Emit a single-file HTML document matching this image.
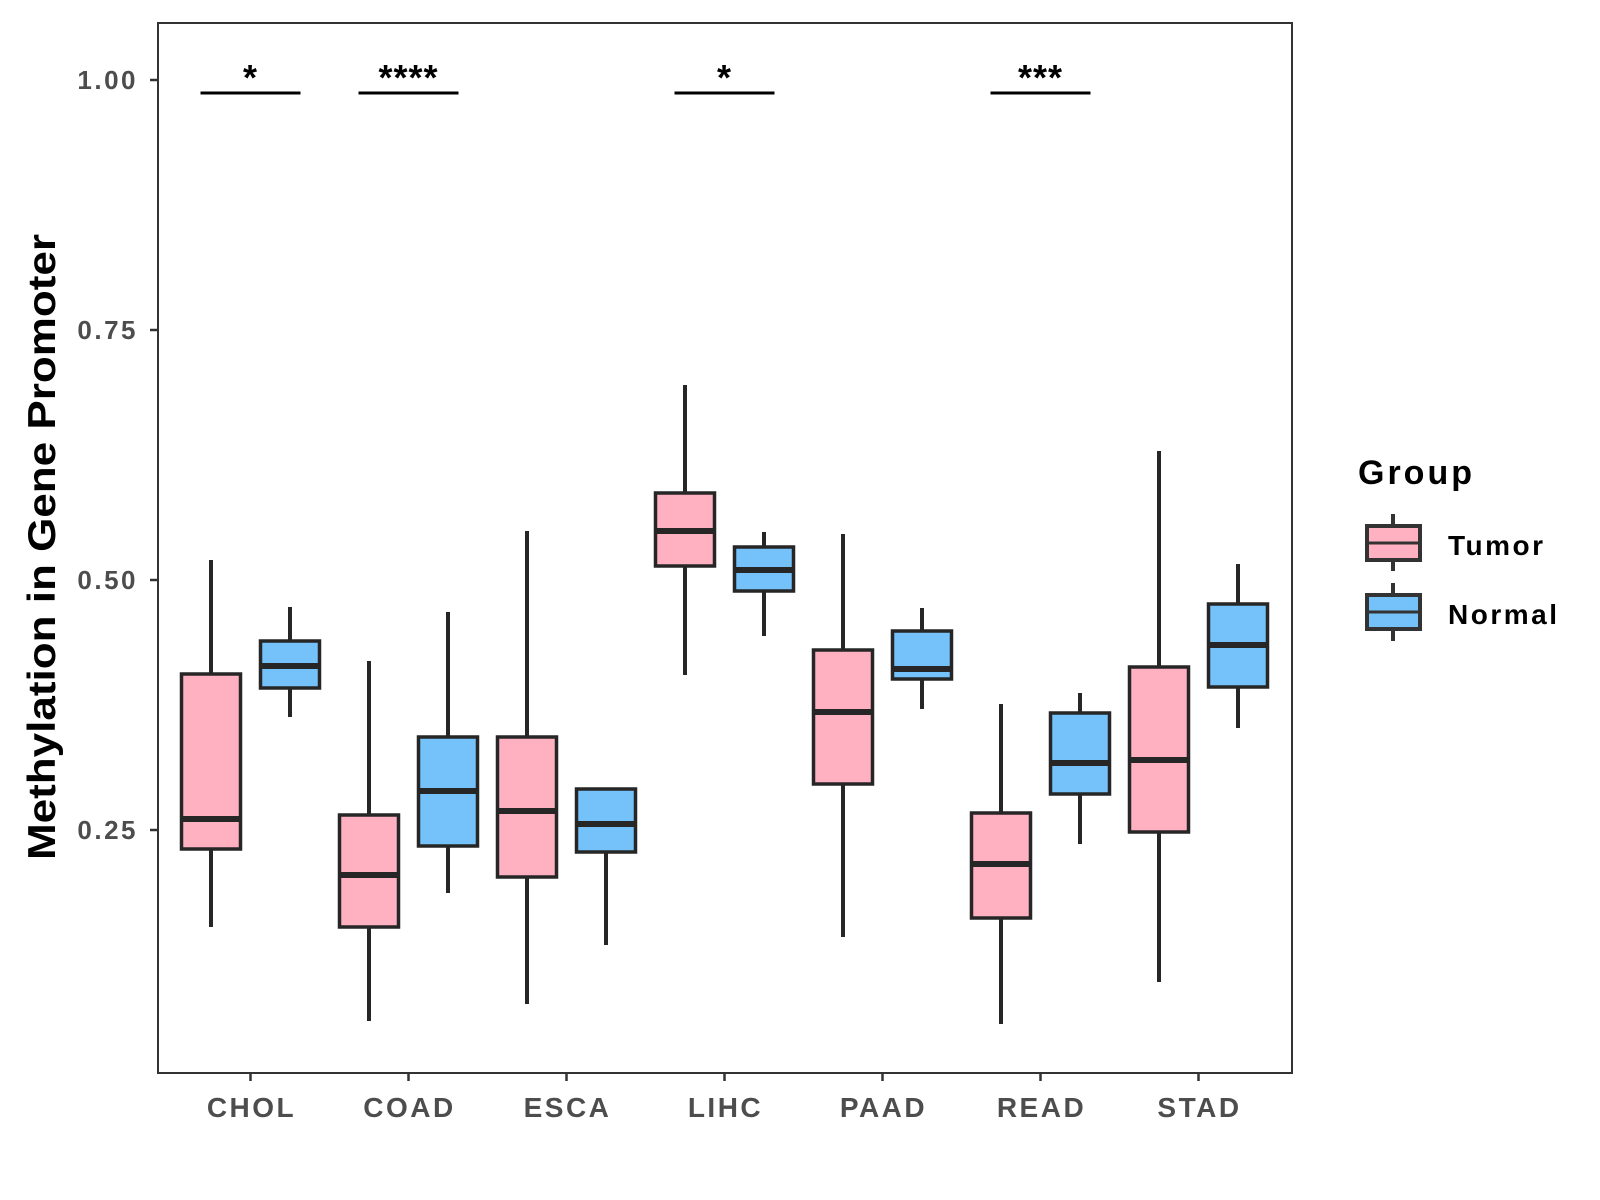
<!DOCTYPE html>
<html><head><meta charset="utf-8"><style>
html,body{margin:0;padding:0;background:#fff;}
svg{display:block;font-family:"Liberation Sans",sans-serif;}
</style></head><body>
<svg id="chart" width="1600" height="1200" xmlns="http://www.w3.org/2000/svg">
<rect x="158" y="23" width="1134" height="1050" fill="#fff" stroke="#333" stroke-width="2"/>
<g id="marks"></g>
<text transform="translate(55,547) rotate(-90)" text-anchor="middle" font-size="39" font-weight="bold" fill="#000" textLength="626" lengthAdjust="spacingAndGlyphs">Methylation in Gene Promoter</text>
<g>
<text x="1358" y="484" font-size="34" font-weight="bold" fill="#000" letter-spacing="3">Group</text>
<g>
<line x1="1393" y1="514" x2="1393" y2="571" stroke="#333" stroke-width="4"/>
<rect x="1367" y="526" width="53" height="34" fill="#FFB0C1" stroke="#333" stroke-width="4"/>
<line x1="1367" y1="543" x2="1420" y2="543" stroke="#333" stroke-width="3"/>
<text x="1448" y="555" font-size="28" font-weight="bold" fill="#000" letter-spacing="2.5">Tumor</text>
</g>
<g>
<line x1="1393" y1="583" x2="1393" y2="641" stroke="#333" stroke-width="4"/>
<rect x="1367" y="595" width="53" height="34" fill="#75C1F9" stroke="#333" stroke-width="4"/>
<line x1="1367" y1="612" x2="1420" y2="612" stroke="#333" stroke-width="3"/>
<text x="1448" y="624" font-size="28" font-weight="bold" fill="#000" letter-spacing="2.5">Normal</text>
</g>
</g>
</svg>
<script>
const categories = ["CHOL","COAD","ESCA","LIHC","PAAD","READ","STAD"];
// [lower whisker, q1, median, q3, upper whisker]
const tumorStats = [
 [0.153,0.231,0.261,0.406,0.520],
 [0.059,0.153,0.205,0.265,0.419],
 [0.076,0.203,0.269,0.343,0.549],
 [0.405,0.514,0.549,0.587,0.695],
 [0.143,0.296,0.368,0.430,0.546],
 [0.056,0.162,0.216,0.267,0.376],
 [0.098,0.248,0.320,0.413,0.629]
];
const normalStats = [
 [0.363,0.392,0.414,0.439,0.473],
 [0.187,0.234,0.289,0.343,0.468],
 [0.135,0.228,0.256,0.291,0.291],
 [0.444,0.489,0.510,0.533,0.548],
 [0.371,0.401,0.411,0.449,0.472],
 [0.236,0.286,0.317,0.367,0.387],
 [0.352,0.393,0.435,0.476,0.516]
];
const yTicks = [0.25,0.50,0.75,1.00];
const yTickLabels = ["0.25","0.50","0.75","1.00"];
const sigCategories = ["CHOL","COAD","LIHC","READ"];
const sigLabels = ["*","****","*","***"];
const sigLevel = 0.987;

const NS="http://www.w3.org/2000/svg";
const g=document.getElementById('marks');
function y(v){return 80+(1-v)*1000;}
function x(i){return 250.5+i*158;}
function el(tag,attrs,parent){const e=document.createElementNS(NS,tag);for(const k in attrs)e.setAttribute(k,attrs[k]);(parent||g).appendChild(e);return e;}

yTicks.forEach((t,i)=>{
 const tk=el('line',{x1:150,x2:158,y1:y(t),y2:y(t),stroke:'#333','stroke-width':2.5});
 
 
 const lb=el('text',{x:138,y:y(t)+9,'text-anchor':'end','font-size':26,'font-weight':'bold',fill:'#4d4d4d','letter-spacing':2.5});
 lb.textContent=yTickLabels[i];
 
 
});
categories.forEach((c,i)=>{
 const tk=el('line',{x1:x(i),x2:x(i),y1:1073,y2:1081,stroke:'#333','stroke-width':2.5});
 
 
 const lb=el('text',{x:x(i)+1,y:1117,'text-anchor':'middle','font-size':28,'font-weight':'bold',fill:'#4d4d4d','letter-spacing':2.5});
 lb.textContent=c;
 
 
});
function box(cx,s,fill,name){
 const grp=el('g',{});
 
 
 el('line',{x1:cx,x2:cx,y1:y(s[4]),y2:y(s[3]),stroke:'#262626','stroke-width':4},grp);
 el('line',{x1:cx,x2:cx,y1:y(s[1]),y2:y(s[0]),stroke:'#262626','stroke-width':4},grp);
 el('rect',{x:cx-29.5,y:y(s[3]),width:59,height:y(s[1])-y(s[3]),fill:fill,stroke:'#262626','stroke-width':3.5},grp);
 el('line',{x1:cx-29.5,x2:cx+29.5,y1:y(s[2]),y2:y(s[2]),stroke:'#262626','stroke-width':6},grp);
}
categories.forEach((c,i)=>{
 box(x(i)-39.5,tumorStats[i],'#FFB0C1','box-tumor-'+c.toLowerCase());
 box(x(i)+39.5,normalStats[i],'#75C1F9','box-normal-'+c.toLowerCase());
});
sigCategories.forEach((c,j)=>{
 const i=categories.indexOf(c);
 const ln=el('line',{x1:x(i)-50,x2:x(i)+50,y1:y(sigLevel),y2:y(sigLevel),stroke:'#000','stroke-width':3});
 
 
 const t=el('text',{x:x(i),y:y(sigLevel)-3,'text-anchor':'middle','font-size':36,'font-weight':'bold',fill:'#000','letter-spacing':1});
 t.textContent=sigLabels[j];
 
 
});
</script>
</body></html>
